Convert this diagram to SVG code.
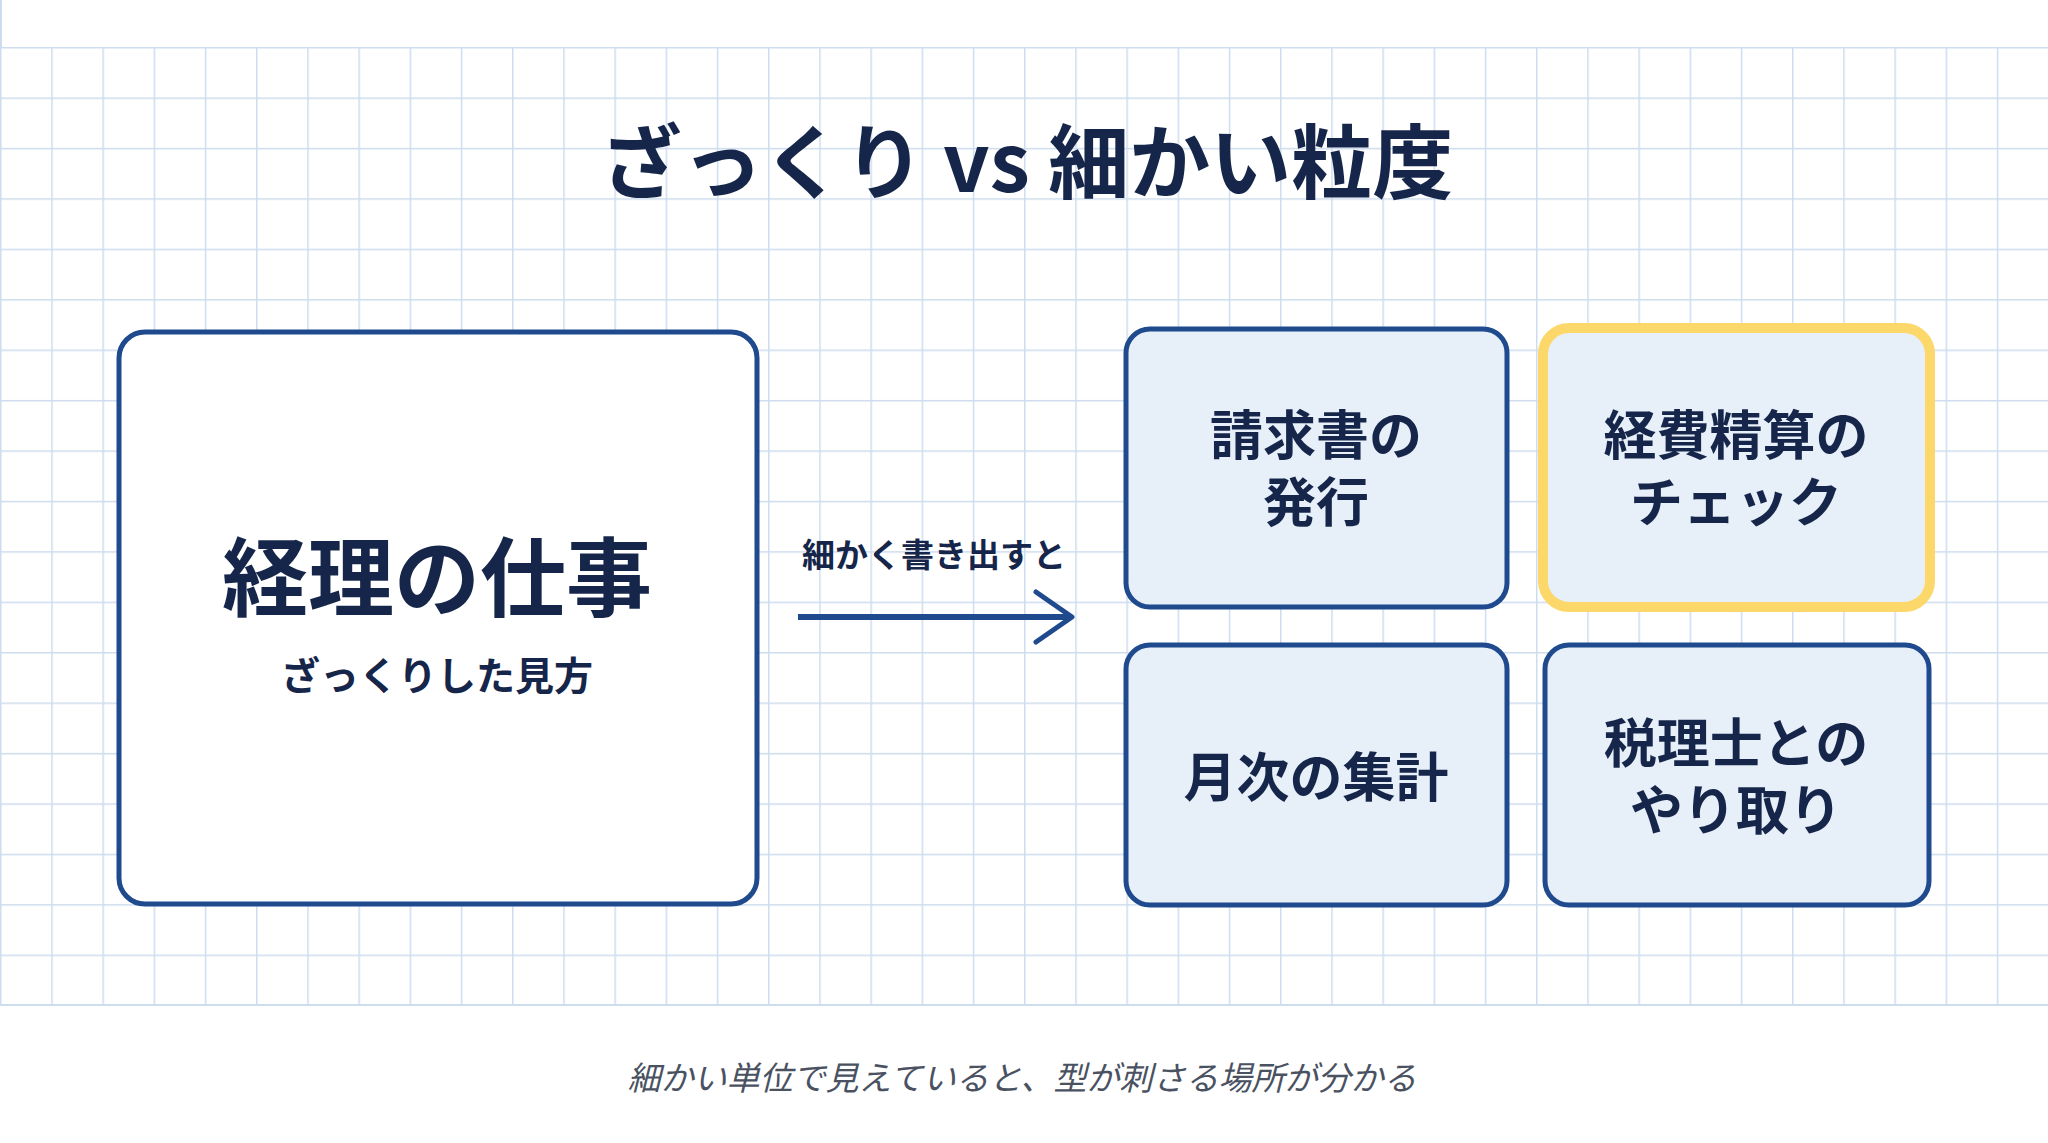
<svg xmlns="http://www.w3.org/2000/svg" width="2048" height="1143" viewBox="0 0 2048 1143">
<defs>
<pattern id="grid" x="0" y="47" width="51.2" height="50.42" patternUnits="userSpaceOnUse">
<path d="M0.5 0 V50.42 M0 0.5 H51.2" fill="none" stroke="#cddcee" stroke-width="2"/>
</pattern>
<style>
.t{font-family:"Noto Sans CJK JP","Noto Sans",sans-serif;font-weight:700;fill:#16264a;text-anchor:middle}
.box{fill:#e7eff9;stroke:#1f4a8e;stroke-width:5}
</style>
</defs>
<rect width="2048" height="1143" fill="#fff"/>
<rect x="0" y="0" width="2048" height="1006" fill="url(#grid)"/>
<rect x="0" y="0" width="2048" height="47" fill="#fff"/>
<path d="M0 1005 H2048" stroke="#cddcee" stroke-width="2"/>
<path d="M1 0 V47" stroke="#cddcee" stroke-width="2"/>
<text class="t" x="1027" y="192" font-size="81">ざっくり vs 細かい粒度</text>
<g id="main">
<rect x="119" y="332" width="638" height="572" rx="26" fill="#fff" stroke="#1f4a8e" stroke-width="5"/>
<text class="t" x="437" y="610" font-size="86">経理の仕事</text>
<text class="t" x="437" y="690" font-size="39">ざっくりした見方</text>
</g>
<g id="connectors">
<path d="M798 617 H1070" stroke="#1f4a8e" stroke-width="6" fill="none"/>
<path d="M1036 592 L1072 617 L1036 642" stroke="#1f4a8e" stroke-width="5" fill="none" stroke-linecap="round" stroke-linejoin="round"/>
<text class="t" x="934" y="567" font-size="33">細かく書き出すと</text>
</g>
<g id="n1">
<rect class="box" x="1126" y="329" width="381" height="278" rx="24"/>
<text class="t" x="1316" y="455" font-size="53">請求書の</text>
<text class="t" x="1316" y="522" font-size="53">発行</text>
</g>
<g id="n2">
<rect x="1543" y="328" width="387" height="279" rx="26" fill="#e7eff9" stroke="#fcd86a" stroke-width="10"/>
<text class="t" x="1736" y="455" font-size="53">経費精算の</text>
<text class="t" x="1736" y="522" font-size="53">チェック</text>
</g>
<g id="n3">
<rect class="box" x="1126" y="645" width="381" height="260" rx="24"/>
<text class="t" x="1316" y="797" font-size="53">月次の集計</text>
</g>
<g id="n4">
<rect class="box" x="1545" y="645" width="384" height="260" rx="24"/>
<text class="t" x="1736" y="763" font-size="53">税理士との</text>
<text class="t" x="1736" y="830" font-size="53">やり取り</text>
</g>
<text x="1022" y="1090" font-size="33" font-style="italic" fill="#4a5262" text-anchor="middle" font-family="Noto Sans CJK JP,sans-serif">細かい単位で見えていると、型が刺さる場所が分かる</text>
</svg>
